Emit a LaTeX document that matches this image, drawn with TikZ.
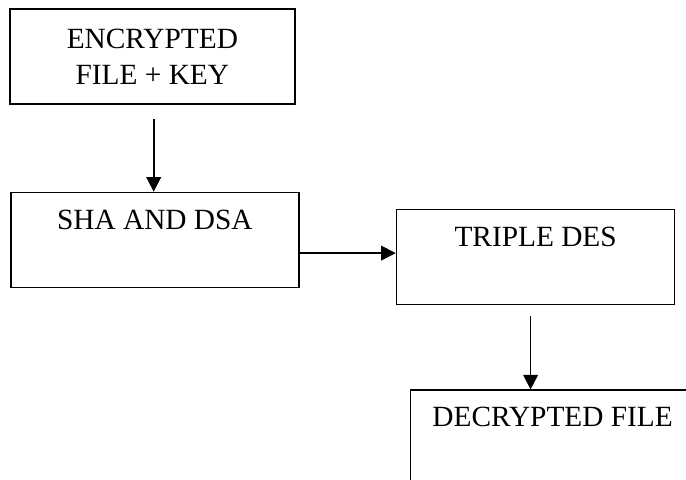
\documentclass[tikz,border=0pt]{standalone}
\usepackage{fontspec}
\setmainfont{Liberation Serif}
\usepackage{tikz}
\usetikzlibrary{positioning,arrows.meta}

\begin{document}
\begin{tikzpicture}[
    box/.style={
      draw=black,
      line width=1.3pt,
      rectangle,
      inner sep=0pt,
      font=\fontsize{22}{27}\selectfont
    },
    topbox/.style={
      box,
      text height=27.75pt,
      text depth=43.5pt
    },
    arrow/.style={
      -{Triangle[length=11pt,width=11pt]},
      line width=1.3pt,
      black
    }
  ]

  % page frame (the last box runs past it)
  \useasboundingbox (0,0) rectangle (514.5pt,-359.25pt);
  \clip (0,0) rectangle (514.5pt,-359.25pt);

  % boxes
  \node[box, align=center, minimum width=213.75pt, minimum height=71.25pt,
        anchor=north west] (enc) at (6.75pt,-6pt) {ENCRYPTED\\FILE + KEY};
  \node[topbox, minimum width=216pt, below=65.25pt of enc.south west,
        anchor=north west, xshift=0.75pt] (sha) {SHA AND DSA};
  \node[topbox, minimum width=208.5pt, right=72pt of sha.north east,
        anchor=north west, yshift=-12.75pt] (des) {TRIPLE DES};
  \node[topbox, text height=27pt, text depth=44.25pt, minimum width=213pt,
        below=63pt of des.south west, anchor=north west, xshift=10.5pt] (dec) {DECRYPTED FILE};

  % arrows
  \draw[arrow, shorten <=10.5pt] ([xshift=1pt]enc.south) -- ([xshift=1pt]enc.south |- sha.north);
  \draw[arrow] ([yshift=-9.75pt]sha.east) -- ([yshift=-9.75pt]sha.east -| des.west);
  \draw[arrow, shorten <=8pt] ([xshift=-3.75pt]des.south) -- ([xshift=-3.75pt]des.south |- dec.north);

\end{tikzpicture}
\end{document}
